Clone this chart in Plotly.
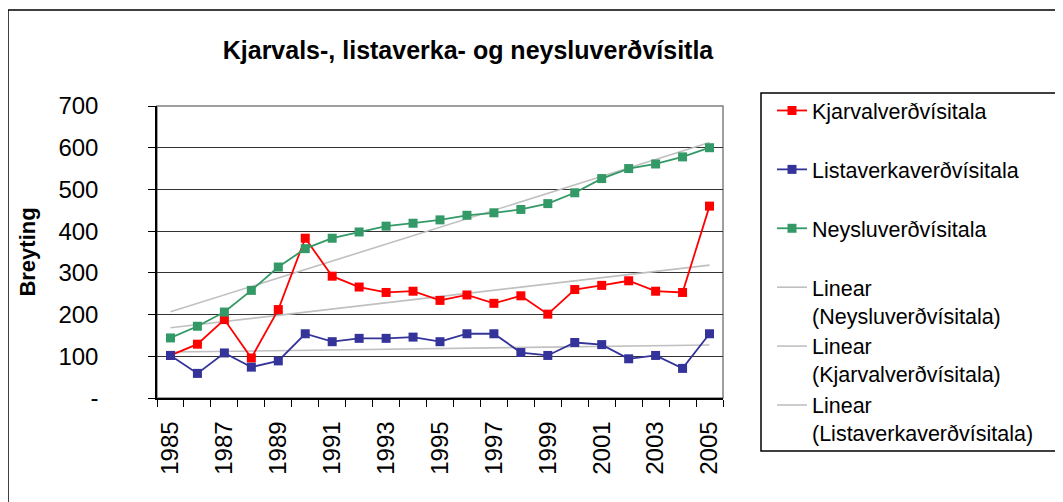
import numpy as np
import plotly.graph_objects as go

YEARS = list(range(1985, 2006))

KJARVAL = [102, 129, 188, 96, 212, 383, 292, 266, 253, 256, 234,
           247, 227, 245, 201, 260, 270, 281, 256, 253, 460]
LISTAVERK = [102, 59, 108, 74, 89, 154, 135, 143, 143, 146, 135,
             154, 154, 109, 102, 133, 128, 94, 102, 71, 154]
NEYSLA = [144, 172, 206, 258, 314, 358, 383, 398, 412, 419, 427,
          438, 444, 452, 466, 492, 526, 550, 561, 578, 600]

Y_TICKS = [0, 100, 200, 300, 400, 500, 600, 700]
Y_TICKTEXT = ["-", "100", "200", "300", "400", "500", "600", "700"]
X_TICKS = list(range(1985, 2006, 2))

FONT = "Arial, Liberation Sans, sans-serif"
TREND_COLOR = "#c0c0c0"

W, H = 1063, 502
# the page body adds an 8px offset, so the figure is laid out 8px up/left
OFF = 8
PL, PR, PT, PB = 157 - OFF, 723 - OFF, 106 - OFF, 398 - OFF
PW, PH = PR - PL, PB - PT


def px(x):
    return (x - OFF - PL) / PW


def py(y):
    return (PB - (y - OFF)) / PH


def trend(values):
    k, m = np.polyfit(YEARS, values, 1)
    return [k * yr + m for yr in YEARS]


fig = go.Figure()

# trend lines first so they sit under the series
trends = [("Linear<br>(Neysluverðvísitala)", NEYSLA, 4),
          ("Linear<br>(Kjarvalverðvísitala)", KJARVAL, 5),
          ("Linear<br>(Listaverkaverðvísitala)", LISTAVERK, 6)]
for name, vals, rank in trends:
    fig.add_trace(go.Scatter(x=YEARS, y=trend(vals), mode="lines", name=name,
                             legendrank=rank,
                             line=dict(color=TREND_COLOR, width=1.6)))

series = [("Kjarvalverðvísitala<br> ", KJARVAL, "#ff0000", 1),
          ("Listaverkaverðvísitala<br> ", LISTAVERK, "#333399", 2),
          ("Neysluverðvísitala<br> ", NEYSLA, "#339966", 3)]
for name, vals, col, rank in series:
    fig.add_trace(go.Scatter(x=YEARS, y=vals, mode="lines+markers", name=name,
                             legendrank=rank,
                             line=dict(color=col, width=1.8),
                             marker=dict(symbol="square", size=9, color=col)))

fig.update_layout(
    width=W, height=H,
    margin=dict(l=PL, r=W - PR, t=PT, b=H - PB, autoexpand=False),
    paper_bgcolor="white", plot_bgcolor="white",
    font=dict(family=FONT, size=22, color="black"),
    title=dict(text="<b>Kjarvals-, listaverka- og neysluverðvísitla</b>",
               x=(468 - OFF) / W, xanchor="center", y=1 - (50 - OFF) / H,
               yanchor="middle", font=dict(size=25)),
    showlegend=True,
    legend=dict(x=px(772), xanchor="left", y=py(90), yanchor="top",
                valign="top", borderwidth=0, bgcolor="rgba(0,0,0,0)",
                font=dict(size=21.5), tracegroupgap=0, maxheight=480),
    shapes=[
        # plot area frame
        dict(type="rect", xref="paper", yref="paper", x0=0, x1=1, y0=0, y1=1,
             line=dict(color="#808080", width=1.5), layer="below"),
        # legend frame
        dict(type="rect", xref="paper", yref="paper", x0=px(761), x1=px(1080),
             y0=py(451), y1=py(93), line=dict(color="black", width=1.5)),
        # chart frame
        dict(type="rect", xref="paper", yref="paper", x0=px(8), x1=px(1100),
             y0=py(560), y1=py(10), line=dict(color="black", width=1.5)),
    ],
)

fig.update_xaxes(
    range=[1984.5, 2005.5], tickmode="array", tickvals=X_TICKS,
    ticktext=[str(y) for y in X_TICKS], tickangle=-90,
    ticks="outside", ticklen=0, ticklabelstandoff=12,
    showline=True, linecolor="black", linewidth=1.5,
    showgrid=False, zeroline=False, automargin=False,
    minor=dict(ticks="outside", tick0=1984.5, dtick=1, ticklen=7,
               tickcolor="black", showgrid=False),
    tickfont=dict(size=24),
)
fig.update_yaxes(
    range=[0, 700], tickmode="array", tickvals=Y_TICKS, ticktext=Y_TICKTEXT,
    ticks="outside", ticklen=7, tickcolor="black", ticklabelstandoff=45,
    showline=True, linecolor="black", linewidth=1.5,
    showgrid=True, gridcolor="#333333", gridwidth=1, zeroline=False,
    automargin=False, tickfont=dict(size=24),
    title=dict(text="<b>Breyting</b>", font=dict(size=22), standoff=17),
)

fig.write_html("out.html")
